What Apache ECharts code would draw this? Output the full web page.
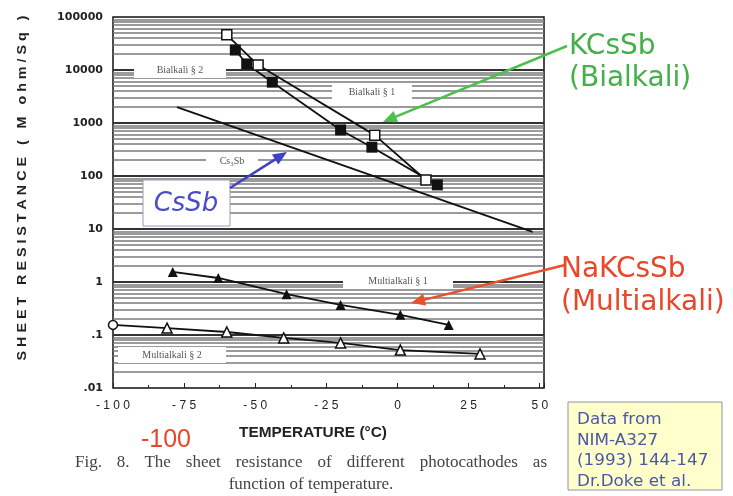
<!DOCTYPE html>
<html>
<head>
<meta charset="utf-8">
<script src="https://cdn.jsdelivr.net/npm/echarts@6/dist/echarts.min.js"></script>
<style>
  html, body { margin: 0; padding: 0; background: #fff; }
  #chart { width: 733px; height: 496px; }
</style>
</head>
<body>
<div id="chart"></div>
<script>
// Sheet resistance (M ohm/Sq) of photocathodes versus temperature (deg C)

// Bialkali, open squares
const bialkaliOpenTemp = [-60, -49, -8, 10];
const bialkaliOpenRes = [46000, 12400, 590, 84];

// Bialkali, filled squares
const bialkaliFilledTemp = [-57, -53, -44, -20, -9, 14];
const bialkaliFilledRes = [23800, 13000, 5900, 740, 350, 68];

// Cs3Sb, fitted straight line
const cs3sbTemp = [-77.5, 47.5];
const cs3sbRes = [2000, 8.8];

// Multialkali #1, filled triangles
const multi1Temp = [-79, -63, -39, -20, 1, 18];
const multi1Res = [1.55, 1.19, 0.59, 0.37, 0.24, 0.155];

// Multialkali #2, open triangles (first point drawn as a circle)
const multi2Temp = [-100, -81, -60, -40, -20, 1, 29];
const multi2Res = [0.155, 0.135, 0.114, 0.088, 0.071, 0.052, 0.044];

// Axis ticks
const xTicks = [-100, -75, -50, -25, 0, 25, 50];
const yDecades = [0.01, 0.1, 1, 10, 100, 1000, 10000, 100000];

const pairs = (xs, ys) => xs.map((x, i) => [x, ys[i]]);

// Log-paper rulings: 2..9 times each decade, plus heavier decade lines
const minorRulings = [];
for (let d = -2; d <= 4; d++) {
  for (let k = 2; k <= 9; k++) {
    minorRulings.push(Number((k * Math.pow(10, d)).toPrecision(3)));
  }
}
const rulingLines = [];
minorRulings.forEach(v => rulingLines.push({ yAxis: v, lineStyle: { color: '#7a7a7a', width: 1.5, type: 'solid' } }));
yDecades.slice(1, -1).forEach(v => rulingLines.push({ yAxis: v, lineStyle: { color: '#333', width: 2.2, type: 'solid' } }));

const chart = echarts.init(document.getElementById('chart'), null, { renderer: 'canvas' });

function arrow(tail, tip, color) {
  const dx = tip[0] - tail[0], dy = tip[1] - tail[1];
  const len = Math.hypot(dx, dy);
  const ux = dx / len, uy = dy / len;
  const L = 14, W = 6;
  const bx = tip[0] - L * ux, by = tip[1] - L * uy;
  return [
    { type: 'line', z: 20, shape: { x1: tail[0], y1: tail[1], x2: bx + 2 * ux, y2: by + 2 * uy },
      style: { stroke: color, lineWidth: 2.5 } },
    { type: 'polygon', z: 20, shape: { points: [tip, [bx - W * uy, by + W * ux], [bx + W * uy, by - W * ux]] },
      style: { fill: color } }
  ];
}

// White-backed curve labels sitting on the ruled background (above the rulings, below the curves)
function plotLabel(cx, cy, w, text) {
  return [
    { type: 'rect', z: 7, shape: { x: cx - w / 2, y: cy - 8, width: w, height: 16 }, style: { fill: '#fff' } },
    { type: 'text', z: 8, style: { x: cx, y: cy, text: text, align: 'center', verticalAlign: 'middle',
        font: '10px "Liberation Serif"', fill: '#555' } }
  ];
}

// Justified caption line: spread words between two x positions
const measureCtx = document.createElement('canvas').getContext('2d');
function justifiedLine(text, x0, x1, y, font, color) {
  measureCtx.font = font;
  const words = text.split(' ');
  const widths = words.map(w => measureCtx.measureText(w).width);
  const total = widths.reduce((a, b) => a + b, 0);
  const gap = (x1 - x0 - total) / (words.length - 1);
  let x = x0;
  return words.map((w, i) => {
    const el = { type: 'text', z: 20, style: { x: x, y: y, text: w, verticalAlign: 'middle', font: font, fill: color } };
    x += widths[i] + gap;
    return el;
  });
}

const annotFont = '"DejaVu Sans"';
const captionFont = '17px "Liberation Serif"';

const option = {
  animation: false,
  backgroundColor: '#fff',
  grid: { left: 113, top: 17, width: 431, height: 371, show: true, borderColor: '#111', borderWidth: 1.5,
          backgroundColor: '#fff' },
  xAxis: [{
    type: 'value', min: -100, max: 51.5, interval: 25,
    axisLine: { show: false },
    splitLine: { show: false },
    axisTick: { show: true, inside: true, length: 5, lineStyle: { color: '#222' } },
    minorTick: { show: true, splitNumber: 2, length: 3, lineStyle: { color: '#222' } },
    axisLabel: {
      margin: 12, showMaxLabel: false,
      formatter: v => xTicks.includes(v) ? String(v).split('').join(' ') : '',
      font: 'bold 10px "DejaVu Sans"', color: '#222'
    }
  }],
  yAxis: [{
    type: 'log', logBase: 10, min: 0.01, max: 100000, splitNumber: 7,
    axisLine: { show: false },
    axisTick: { show: false },
    splitLine: { show: false },
    axisLabel: {
      margin: 10,
      formatter: v => {
        const n = Number(Number(v).toPrecision(3));
        return n >= 1 ? String(n) : String(n).replace(/^0/, '');
      },
      fontFamily: 'DejaVu Sans', fontWeight: 'bold', fontSize: 11, color: '#222'
    }
  }],
  series: [
    {
      name: 'rulings', type: 'line', data: [], z: 2, silent: true,
      markLine: { silent: true, z: 3, symbol: 'none', label: { show: false }, animation: false,
        lineStyle: { type: 'solid' }, data: rulingLines }
    },
    {
      name: 'Bialkali open', type: 'line', z: 10, clip: false,
      data: pairs(bialkaliOpenTemp, bialkaliOpenRes),
      symbol: 'rect', symbolSize: 10,
      lineStyle: { color: '#111', width: 1.8 },
      itemStyle: { color: '#fff', borderColor: '#111', borderWidth: 1.5 }
    },
    {
      name: 'Bialkali filled', type: 'line', z: 10, clip: false,
      data: pairs(bialkaliFilledTemp, bialkaliFilledRes),
      symbol: 'rect', symbolSize: 11,
      lineStyle: { color: '#111', width: 1.8 },
      itemStyle: { color: '#111' }
    },
    {
      name: 'Cs3Sb', type: 'line', z: 10, clip: false,
      data: pairs(cs3sbTemp, cs3sbRes),
      showSymbol: false, symbol: 'none',
      lineStyle: { color: '#111', width: 1.8 }
    },
    {
      name: 'Multialkali 1', type: 'line', z: 10, clip: false,
      data: pairs(multi1Temp, multi1Res),
      symbol: 'triangle', symbolSize: 10,
      lineStyle: { color: '#111', width: 1.8 },
      itemStyle: { color: '#111' }
    },
    {
      name: 'Multialkali 2', type: 'line', z: 10, clip: false,
      data: pairs(multi2Temp, multi2Res).map((p, i) => i === 0 ? { value: p, symbol: 'circle', symbolSize: 9 } : p),
      symbol: 'triangle', symbolSize: 10,
      lineStyle: { color: '#111', width: 1.8 },
      itemStyle: { color: '#fff', borderColor: '#111', borderWidth: 1.5 }
    }
  ],
  graphic: [
    ...plotLabel(180, 70, 92, 'Bialkali § 2'),
    ...plotLabel(372, 92, 80, 'Bialkali § 1'),
    ...plotLabel(232, 161, 52, 'Cs\u2083Sb'),
    ...plotLabel(398, 281, 110, 'Multialkali § 1'),
    ...plotLabel(172, 355, 108, 'Multialkali § 2'),

    // CsSb callout box
    { type: 'rect', z: 15, shape: { x: 143, y: 180, width: 87, height: 46 },
      style: { fill: '#fff', stroke: '#9a9ab8', lineWidth: 1 } },
    { type: 'text', z: 16, style: { x: 186, y: 204, text: 'CsSb', align: 'center', verticalAlign: 'middle',
        font: 'italic 26px ' + annotFont, fill: '#4b4bc8' } },

    ...arrow([567, 46], [383, 122], '#4cc04c'),
    ...arrow([230, 188], [287, 152], '#4040c8'),
    ...arrow([565, 265], [411, 303], '#e8502e'),

    { type: 'text', z: 20, style: { x: 569, y: 31, text: 'KCsSb\n(Bialkali)', lineHeight: 32,
        font: '28px ' + annotFont, fill: '#44b04a' } },
    { type: 'text', z: 20, style: { x: 561, y: 253, text: 'NaKCsSb\n(Multialkali)', lineHeight: 33,
        font: '28px ' + annotFont, fill: '#e8472a' } },

    // axis titles and caption
    { type: 'text', z: 20, x: 22, y: 188, rotation: Math.PI / 2, scaleX: 1.1,
      style: { x: 0, y: 0, text: 'S H E E T   R E S I S T A N C E   (   M   o h m / S q   )', align: 'center',
        verticalAlign: 'middle', font: 'bold 13px "Liberation Sans"', fill: '#222' } },
    { type: 'text', z: 20, x: 313, y: 433, scaleX: 1.1,
      style: { x: 0, y: 0, text: 'TEMPERATURE (\u00b0C)', align: 'center',
        verticalAlign: 'middle', font: 'bold 14px "Liberation Sans"', fill: '#222' } },
    { type: 'text', z: 20, style: { x: 166, y: 440, text: '-100', align: 'center', verticalAlign: 'middle',
        font: '25px "Liberation Sans"', fill: '#e8472a' } },
    ...justifiedLine('Fig. 8. The sheet resistance of different photocathodes as', 75, 547, 463, captionFont, '#444'),
    { type: 'text', z: 20, style: { x: 311, y: 485, text: 'function of temperature.',
        align: 'center', verticalAlign: 'middle', font: captionFont, fill: '#444' } },

    // source note
    { type: 'rect', z: 20, shape: { x: 568, y: 402, width: 154, height: 88 },
      style: { fill: '#ffffcc', stroke: '#9090a8', lineWidth: 1 } },
    { type: 'text', z: 21, x: 577, y: 410, scaleX: 1.12,
      style: { x: 0, y: 0, text: 'Data from\nNIM-A327\n(1993) 144-147\nDr.Doke et al.',
        lineHeight: 20.5, font: '15px ' + annotFont, fill: '#4a58a8' } }
  ]
};

chart.setOption(option);
</script>
</body>
</html>
